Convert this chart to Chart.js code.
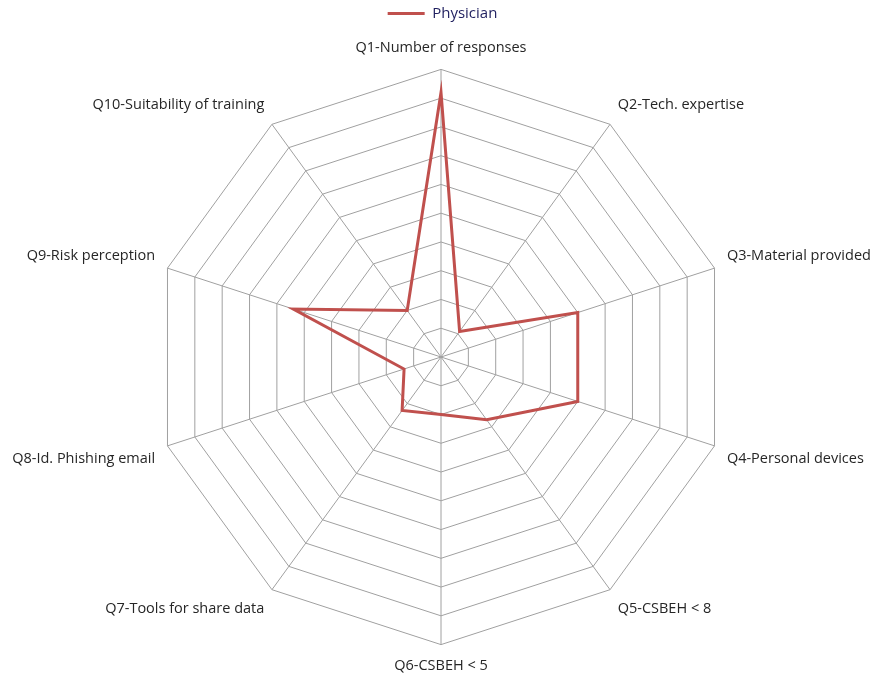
<!DOCTYPE html>
<html>
<head>
<meta charset="utf-8">
<script src="https://cdn.jsdelivr.net/npm/chart.js@4.4.0/dist/chart.umd.min.js"></script>
<style>
html,body{margin:0;padding:0;background:#fff;}
#wrap{width:879px;height:675px;}
</style>
</head>
<body>
<div id="wrap"><canvas id="c" width="879" height="675"></canvas></div>
<script>
const categories = [
  "Q1-Number of responses",
  "Q2-Tech. expertise",
  "Q3-Material provided",
  "Q4-Personal devices",
  "Q5-CSBEH < 8",
  "Q6-CSBEH < 5",
  "Q7-Tools for share data",
  "Q8-Id. Phishing email",
  "Q9-Risk perception",
  "Q10-Suitability of training"
];
const seriesName = "Physician";
const physicianValues = [9.2, 1.1, 5.0, 5.0, 2.7, 2.0, 2.3, 1.35, 5.4, 2.0];
const scaleMin = 0;
const scaleMax = 10;
const scaleStep = 1;

const FONT = "'Open Sans', 'Liberation Sans', sans-serif";

const legendGap = {
  id: 'legendGap',
  beforeLayout(chart) {
    const lg = chart.legend;
    if (lg && !lg._gapPatched) {
      const fit = lg.fit;
      lg.fit = function () { fit.call(this); this.height += 8; };
      lg._gapPatched = true;
    }
  }
};

new Chart(document.getElementById('c'), {
  type: 'radar',
  data: {
    labels: categories,
    datasets: [{
      label: seriesName,
      data: physicianValues,
      borderColor: '#C0504D',
      backgroundColor: 'rgba(0,0,0,0)',
      borderWidth: 3,
      pointRadius: 0,
      pointHoverRadius: 0,
      fill: false,
      tension: 0
    }]
  },
  plugins: [legendGap],
  options: {
    responsive: false,
    animation: false,
    devicePixelRatio: 1,
    layout: { padding: { left: 6, right: 0, top: 0, bottom: 0 } },
    plugins: {
      legend: {
        position: 'top',
        labels: {
          usePointStyle: true,
          pointStyle: 'line',
          pointStyleWidth: 37,
          color: '#1F1F5F',
          font: { family: FONT, size: 15 },
          padding: 6
        }
      },
      tooltip: { enabled: false }
    },
    scales: {
      r: {
        min: scaleMin,
        max: scaleMax,
        ticks: { stepSize: scaleStep, display: false },
        grid: { color: '#A0A0A0', lineWidth: 1, circular: false },
        angleLines: { color: '#A0A0A0', lineWidth: 1 },
        pointLabels: {
          color: '#262626',
          font: { family: FONT, size: 14.5 },
          padding: 13
        }
      }
    }
  }
});
</script>
</body>
</html>
